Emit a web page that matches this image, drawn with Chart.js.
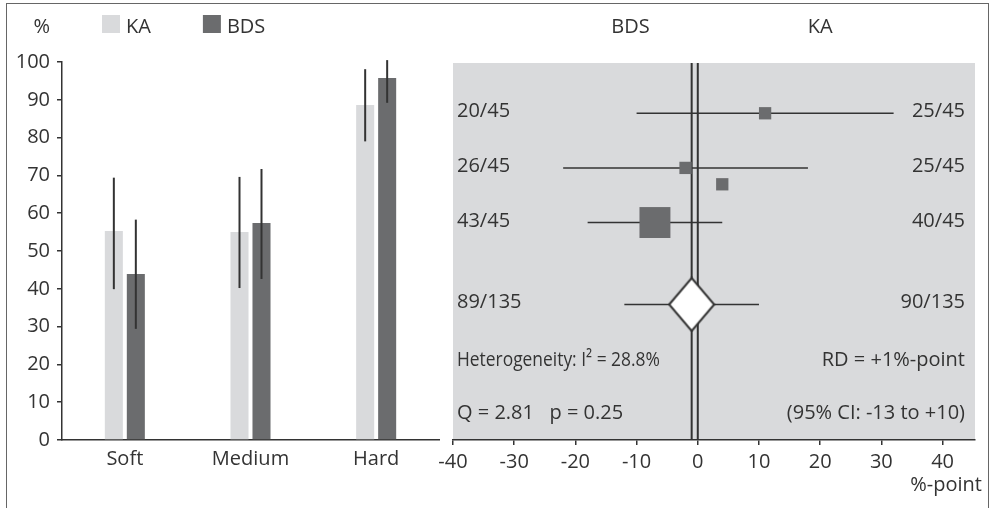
<!DOCTYPE html>
<html>
<head>
<meta charset="utf-8">
<script src="https://cdn.jsdelivr.net/npm/chart.js@4.4.0/dist/chart.umd.min.js"></script>
<style>
  html, body { margin: 0; padding: 0; background: #fff; }
  #wrap { position: relative; width: 991px; height: 508px; overflow: hidden; }
  #frame { position: absolute; left: 6px; top: 3px; width: 983px; height: 540px; box-sizing: border-box;
           border: 1.5px solid #666; border-bottom: none; }
  #left { position: absolute; left: 0; top: 0; }
  #right { position: absolute; left: 420px; top: 0; }
</style>
</head>
<body>
<div id="wrap">
  <div id="frame"></div>
  <canvas id="left" width="445" height="508"></canvas>
  <canvas id="right" width="571" height="508"></canvas>
</div>
<script>
// bar chart: percentage per hardness group
const categories = ['Soft', 'Medium', 'Hard'];
const kaValues = [55.3, 55.0, 88.6];
const bdsValues = [43.9, 57.4, 95.8];
const kaLow = [39.9, 40.2, 79.0];
const kaHigh = [69.4, 69.6, 98.1];
const bdsLow = [29.4, 42.6, 89.2];
const bdsHigh = [58.3, 71.7, 100.5];

// forest plot: risk difference in %-point
const studyRow = [1, 2, 3];
const studyLeft = ['20/45', '26/45', '43/45'];
const studyRight = ['25/45', '25/45', '40/45'];
const studyEst = [11, -2, -7];
const studyLow = [-10, -22, -18];
const studyHigh = [32, 18, 4];
const studyWeight = [12, 12, 76];
const strayPoint = { x: 4, y: 2.3, w: 12 };
const pooledRow = 4.5;
const pooledLeft = '89/135';
const pooledRight = '90/135';
const pooledEst = -1;
const pooledLow = -12;
const pooledHigh = 10;
const hetText = 'Heterogeneity: I\u00B2 = 28.8%';
const qText = 'Q = 2.81   p = 0.25';
const rdText = 'RD = +1%-point';
const ciText = '(95% CI: -13 to +10)';
const headerLabels = ['BDS', 'KA'];
const headerPos = [-11, 20];
const xTicks = [-40, -30, -20, -10, 0, 10, 20, 30, 40];

const FONT = "'Open Sans', sans-serif";
const INK = '#333';
const LIGHT = '#d9dadc';
const DARK = '#6b6c6e';

Chart.defaults.font.family = FONT;
Chart.defaults.font.size = 20;
Chart.defaults.color = INK;

const errorBars = {
    id: 'errorBars',
    afterDatasetsDraw(chart) {
        const ctx = chart.ctx;
        const y = chart.scales.y;
        const ranges = [[kaLow, kaHigh], [bdsLow, bdsHigh]];
        ctx.save();
        ctx.strokeStyle = INK;
        ctx.lineWidth = 2;
        chart.data.datasets.forEach((ds, i) => {
            chart.getDatasetMeta(i).data.forEach((bar, j) => {
                ctx.beginPath();
                ctx.moveTo(bar.x, y.getPixelForValue(ranges[i][0][j]));
                ctx.lineTo(bar.x, y.getPixelForValue(ranges[i][1][j]));
                ctx.stroke();
            });
        });
        ctx.restore();
    }
};

const barHeader = {
    id: 'barHeader',
    afterDraw(chart) {
        const ctx = chart.ctx;
        ctx.save();
        ctx.font = '20px ' + FONT;
        ctx.fillStyle = INK;
        ctx.textBaseline = 'alphabetic';
        ctx.textAlign = 'right';
        ctx.fillText('%', 50, 32.5);
        ctx.textAlign = 'left';
        let x = 102;
        chart.data.datasets.forEach(ds => {
            ctx.fillStyle = ds.backgroundColor;
            ctx.fillRect(x, 15, 18, 18);
            ctx.fillStyle = INK;
            ctx.fillText(ds.label, x + 24, 32.5);
            x += 24 + ctx.measureText(ds.label).width + 52;
        });
        ctx.restore();
    }
};

new Chart(document.getElementById('left'), {
    type: 'bar',
    data: {
        labels: categories,
        datasets: [
            { label: 'KA', data: kaValues, backgroundColor: LIGHT },
            { label: 'BDS', data: bdsValues, backgroundColor: DARK }
        ]
    },
    options: {
        responsive: false,
        animation: false,
        devicePixelRatio: 1,
        layout: { autoPadding: false, padding: { top: 62, right: 6, bottom: 0, left: 0 } },
        datasets: { bar: { categoryPercentage: 0.35, barPercentage: 0.82 } },
        plugins: { legend: { display: false }, tooltip: { enabled: false } },
        scales: {
            x: {
                grid: { display: false, tickLength: 0 },
                border: { color: INK, width: 1.5 },
                ticks: { padding: 7, color: INK },
                afterFit: s => { s.height = 68; }
            },
            y: {
                min: 0,
                max: 100,
                ticks: { stepSize: 10, padding: 7, color: INK },
                grid: { drawOnChartArea: false, drawTicks: true, tickLength: 5, color: INK, lineWidth: 1.5 },
                border: { color: INK, width: 1.5 },
                afterFit: s => { s.width = 62; }
            }
        }
    },
    plugins: [errorBars, barHeader]
});

// diamond marker for the pooled estimate
const diamond = document.createElement('canvas');
diamond.width = 48;
diamond.height = 56;
(function () {
    const d = diamond.getContext('2d');
    d.beginPath();
    d.moveTo(1.5, 28);
    d.lineTo(24, 1.5);
    d.lineTo(46.5, 28);
    d.lineTo(24, 54.5);
    d.closePath();
    d.fillStyle = '#fff';
    d.fill();
    d.strokeStyle = INK;
    d.lineWidth = 2;
    d.stroke();
})();

const yMin = 0.08;
const yMax = 6.98;

const forestText = {
    id: 'forestText',
    beforeDraw(chart) {
        const a = chart.chartArea;
        chart.ctx.save();
        chart.ctx.fillStyle = LIGHT;
        chart.ctx.fillRect(a.left, a.top, a.right - a.left, a.bottom - a.top);
        chart.ctx.restore();
    },
    afterDraw(chart) {
        const ctx = chart.ctx;
        const a = chart.chartArea;
        const x = chart.scales.x;
        const y = chart.scales.y;
        const lx = a.left + 4;
        const rx = a.right - 10;
        ctx.save();
        ctx.font = '20px ' + FONT;
        ctx.fillStyle = INK;
        ctx.textBaseline = 'alphabetic';

        ctx.textAlign = 'center';
        headerLabels.forEach((t, i) => ctx.fillText(t, x.getPixelForValue(headerPos[i]), 33));

        const rowsL = studyLeft.concat([pooledLeft]);
        const rowsR = studyRight.concat([pooledRight]);
        const rows = studyRow.concat([pooledRow]);
        rows.forEach((r, i) => {
            const py = y.getPixelForValue(r) + 4;
            ctx.textAlign = 'left';
            ctx.fillText(rowsL[i], lx, py);
            ctx.textAlign = 'right';
            ctx.fillText(rowsR[i], rx, py);
        });

        const hy = y.getPixelForValue(5.55) + 4;
        const qy = y.getPixelForValue(6.52) + 4;
        ctx.textAlign = 'right';
        ctx.fillText(rdText, rx, hy);
        ctx.fillText(ciText, rx, qy);
        ctx.textAlign = 'left';
        ctx.fillText(qText, lx, qy);
        ctx.save();
        ctx.translate(lx, hy);
        ctx.scale(0.87, 1);
        ctx.fillText(hetText, 0, 0);
        ctx.restore();

        ctx.textAlign = 'right';
        ctx.fillText('%-point', chart.width - 9, 491);
        ctx.restore();
    }
};

const lineStyle = { showLine: true, pointRadius: 0, borderColor: INK, borderWidth: 1.5, clip: false };

const forestSets = [
    { data: [{ x: pooledEst, y: 4.5 }], pointStyle: diamond, pointRadius: 25, order: 0 },
    {
        data: studyEst.map((v, i) => ({ x: v, y: studyRow[i] })).concat([{ x: strayPoint.x, y: strayPoint.y }]),
        pointStyle: 'rect',
        pointRadius: studyWeight.concat([strayPoint.w]).map(w => Math.sqrt(w) * 3.55 / Math.SQRT2),
        backgroundColor: DARK,
        borderWidth: 0,
        order: 1
    },
    Object.assign({ data: [{ x: pooledLow, y: pooledRow }, { x: pooledHigh, y: pooledRow }], order: 2 }, lineStyle),
    Object.assign({ data: [{ x: 0, y: yMin }, { x: 0, y: yMax }], order: 3 }, lineStyle, { borderWidth: 2 }),
    Object.assign({ data: [{ x: pooledEst, y: yMin }, { x: pooledEst, y: yMax }], order: 3 }, lineStyle, { borderWidth: 2 })
];
studyRow.forEach((r, i) => {
    forestSets.push(Object.assign({
        data: [{ x: studyLow[i], y: r }, { x: studyHigh[i], y: r }],
        order: 2
    }, lineStyle));
});

new Chart(document.getElementById('right'), {
    type: 'scatter',
    data: { datasets: forestSets },
    options: {
        responsive: false,
        animation: false,
        devicePixelRatio: 1,
        layout: { autoPadding: false, padding: { top: 63, right: 16, bottom: 0, left: 33 } },
        plugins: { legend: { display: false }, tooltip: { enabled: false } },
        scales: {
            x: {
                min: -40,
                max: 45.3,
                afterBuildTicks: s => { s.ticks = xTicks.map(v => ({ value: v })); },
                ticks: { padding: 5, color: INK },
                grid: { drawOnChartArea: false, drawTicks: true, tickLength: 5, color: INK, lineWidth: 1.5 },
                border: { color: INK, width: 1.5 },
                afterFit: s => { s.height = 68; s.paddingLeft = 0; s.paddingRight = 0; }
            },
            y: { display: false, min: yMin, max: yMax, reverse: true }
        }
    },
    plugins: [forestText]
});
</script>
</body>
</html>
